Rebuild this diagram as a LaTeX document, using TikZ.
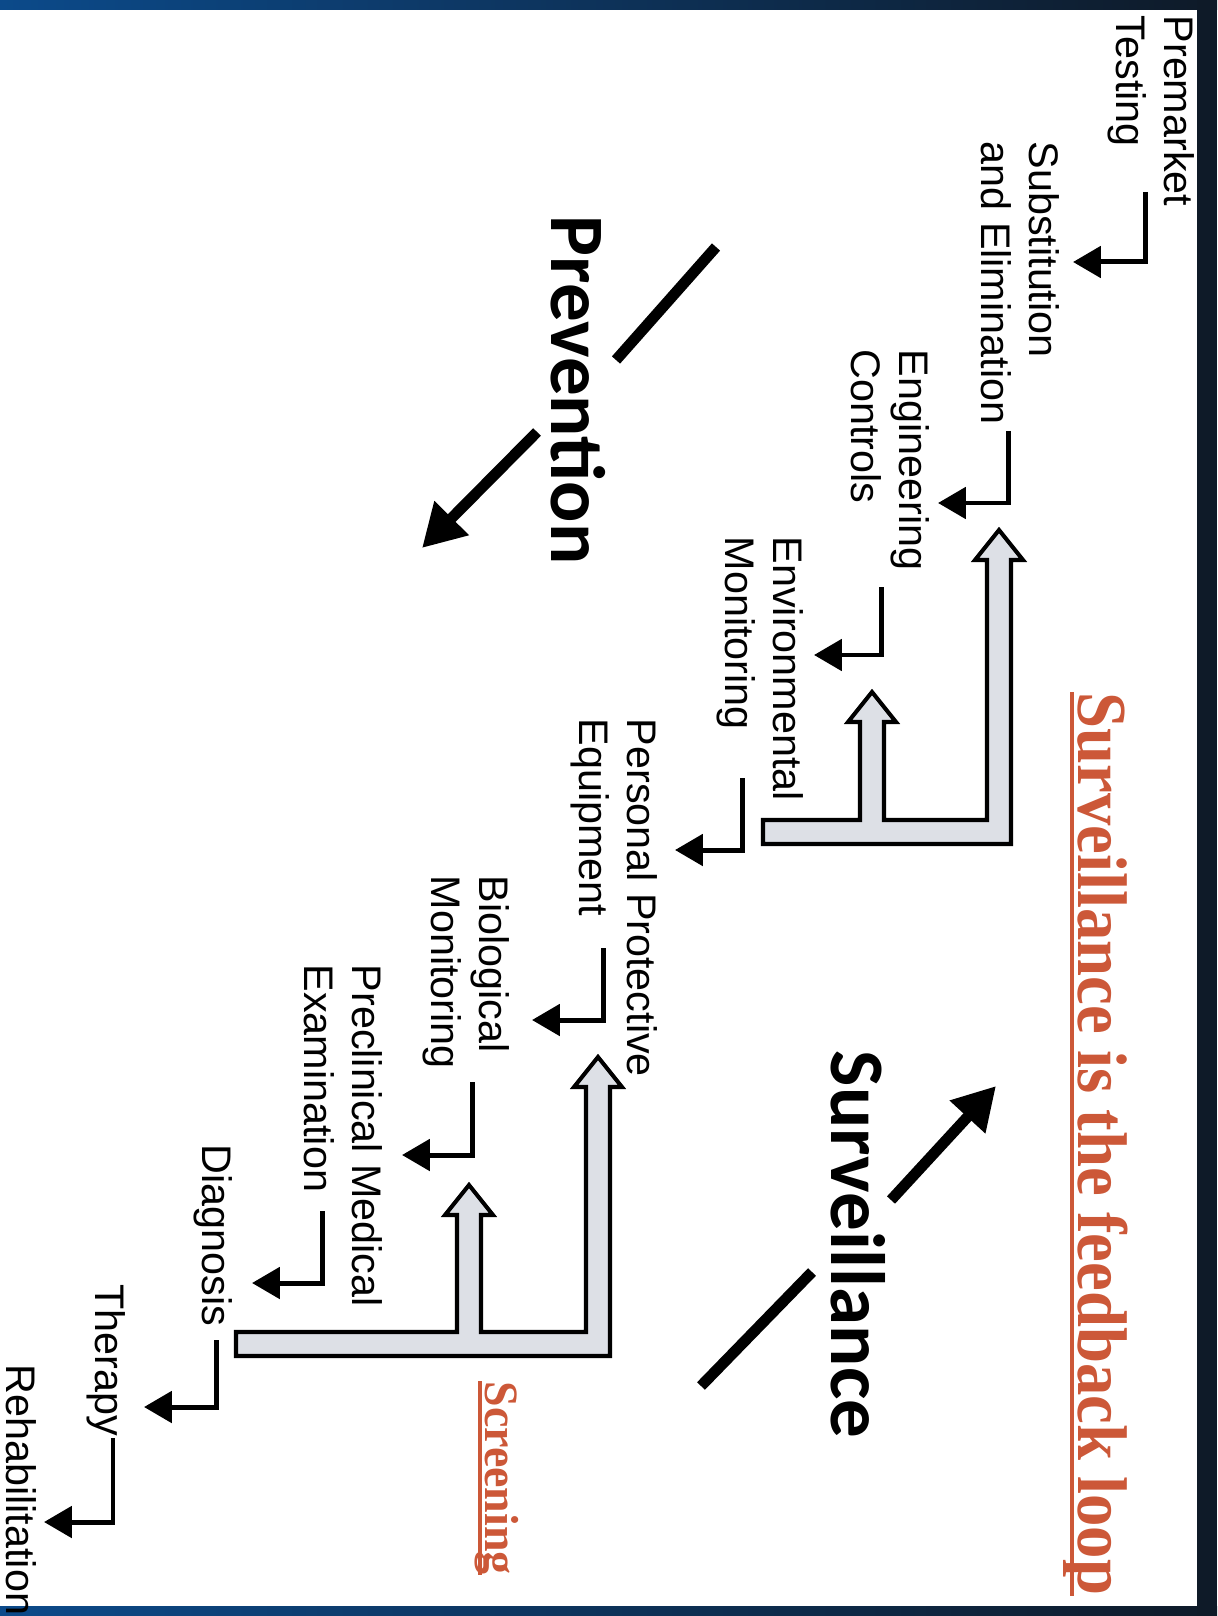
\documentclass[tikz,border=0pt]{standalone}
\usepackage{fontspec}
\setmainfont{Liberation Sans}
\newfontfamily\themefont{Carlito}
\newfontfamily\loopfont{Liberation Serif}
\usepackage[dvipsnames]{xcolor}
\usetikzlibrary{calc, arrows.meta}

\definecolor{slideblue}{RGB}{12,74,138}
\definecolor{slidedark}{RGB}{14,26,40}
\definecolor{looprust}{RGB}{204,88,56}
\definecolor{pipegray}{RGB}{221,224,230}

\newcommand{\Feedback}[6]{%
    % #1 : left end of the bar
    % #2 : x of the long branch
    % #3 : x of the short branch
    % #4 : top of the bar
    % #5 : tip of the long branch
    % #6 : tip of the short branch
    \def\shaft{12} % half width of a branch
    \def\head{24} % half width of a head
    \def\headlen{30}
    \begin{scope}
        \filldraw[fill=pipegray, line width=1.15pt]
        (#1,#4+2*\shaft) -- (#2+\shaft,#4+2*\shaft)
        -- (#2+\shaft,#5+\headlen) -- (#2+\head,#5+\headlen)
        -- (#2,#5) -- (#2-\head,#5+\headlen) -- (#2-\shaft,#5+\headlen)
        -- (#2-\shaft,#4) -- (#3+\shaft,#4)
        -- (#3+\shaft,#6+\headlen) -- (#3+\head,#6+\headlen)
        -- (#3,#6) -- (#3-\head,#6+\headlen) -- (#3-\shaft,#6+\headlen)
        -- (#3-\shaft,#4) -- (#1,#4) -- cycle;
    \end{scope}
}

\begin{document}
\begin{tikzpicture}[
        x=0.01cm, y=-0.01cm,
        line join=miter,
        stage/.style={rotate=-90, inner sep=0pt, align=left, anchor=north west,
            font=\fontsize{11.75}{13.7}\selectfont},
        theme/.style={rotate=-90, inner sep=0pt, anchor=base west,
            font=\themefont\bfseries\fontsize{21.9}{24}\selectfont},
        headline/.style={rotate=-90, inner sep=0pt, anchor=base west,
            text=looprust, font=\loopfont\bfseries},
        loopline/.style={draw=looprust, line width=1.1pt},
        elbow/.style={line width=1.42pt, -{Triangle[length=7.9pt, width=8.8pt]}},
        diag/.style={line width=3.1pt},
        diagarrow/.style={diag, -{Triangle[length=12pt, width=13pt]}},
    ]

    \useasboundingbox (0,0) rectangle (1217,1616);
    \fill[white] (0,0) rectangle (1217,1616);

    % slide frame
    \shade[left color=slideblue, right color=slidedark] (0,0) rectangle (1217,10);
    \shade[left color=slideblue, right color=slidedark] (0,1606) rectangle (1217,1616);
    \fill[slidedark] (1197,0) rectangle (1217,1616);

    % steps
    \node[stage] (premarket) at (1195,15) {Premarket\\Testing};
    \node[stage] (substitution) at (1060,141) {Substitution\\and Elimination};
    \node[stage] (engineering) at (930,349) {Engineering\\Controls};
    \node[stage] (environmental) at (804,536) {Environmental\\Monitoring};
    \node[stage] (protective) at (658,718) {Personal Protective\\Equipment};
    \node[stage] (biological) at (510,875) {Biological\\Monitoring};
    \node[stage] (preclinical) at (383,964) {Preclinical Medical\\Examination};
    \node[stage] (diagnosis) at (233,1144) {Diagnosis};
    \node[stage] (therapy) at (126,1284) {Therapy};
    \node[stage] (rehabilitation) at (37,1364) {Rehabilitation};

    \coordinate (premarket-out) at (1145,192);
    \coordinate (substitution-in) at (1073,262);
    \coordinate (substitution-out) at (1008,431);
    \coordinate (engineering-in) at (938,503);
    \coordinate (engineering-out) at (881,587);
    \coordinate (environmental-in) at (814,655);
    \coordinate (environmental-out) at (742,778);
    \coordinate (protective-in) at (675,850);
    \coordinate (protective-out) at (603,948);
    \coordinate (biological-in) at (532,1020);
    \coordinate (biological-out) at (472,1082);
    \coordinate (preclinical-in) at (402,1155);
    \coordinate (preclinical-out) at (322,1211);
    \coordinate (diagnosis-in) at (252,1283);
    \coordinate (diagnosis-out) at (216,1340);
    \coordinate (therapy-in) at (144,1407);
    \coordinate (therapy-out) at (113,1438);
    \coordinate (rehabilitation-in) at (44,1522);

    \draw[elbow] (premarket-out) |- (substitution-in);
    \draw[elbow] (substitution-out) |- (engineering-in);
    \draw[elbow] (engineering-out) |- (environmental-in);
    \draw[elbow] (environmental-out) |- (protective-in);
    \draw[elbow] (protective-out) |- (biological-in);
    \draw[elbow] (biological-out) |- (preclinical-in);
    \draw[elbow] (preclinical-out) |- (diagnosis-in);
    \draw[elbow] (diagnosis-out) |- (therapy-in);
    \draw[elbow] (therapy-out) |- (rehabilitation-in);

    % feedback pipes
    \Feedback{763}{999}{872}{820}{530}{692}
    \Feedback{236}{598}{469}{1332}{1057}{1185}

    % prevention and surveillance
    \node[theme] (prevention) at (551,215) {Prevention};
    \node[theme] (surveillance) at (831,1050) {Surveillance};

    \coordinate (prev-a) at (716,247);
    \coordinate (prev-b) at (616,360);
    \coordinate (prev-c) at (537,432);
    \coordinate (prev-d) at (422,548);
    \draw[diag] (prev-a) -- (prev-b);
    \draw[diagarrow] (prev-c) -- (prev-d);

    \coordinate (surv-a) at (701,1386);
    \coordinate (surv-b) at (812,1272);
    \coordinate (surv-c) at (891,1200);
    \coordinate (surv-d) at (996,1086);
    \draw[diag] (surv-a) -- (surv-b);
    \draw[diagarrow] (surv-c) -- (surv-d);

    % red titles
    \node[headline, font=\loopfont\bfseries\fontsize{20}{24}\selectfont]
        (loop) at (1078,692) {\scalebox{0.92}[1]{Surveillance is the feedback loop}};
    \draw[loopline] ([xshift=-0.06cm]loop.base west) -- ([xshift=-0.06cm]loop.base east);

    \node[headline, font=\loopfont\bfseries\fontsize{13.6}{16}\selectfont]
        (screening) at (485,1381) {\scalebox{0.96}[1]{Screening}};
    \draw[loopline] ([xshift=-0.05cm]screening.base west) -- ([xshift=-0.05cm]screening.base east);

\end{tikzpicture}
\end{document}
